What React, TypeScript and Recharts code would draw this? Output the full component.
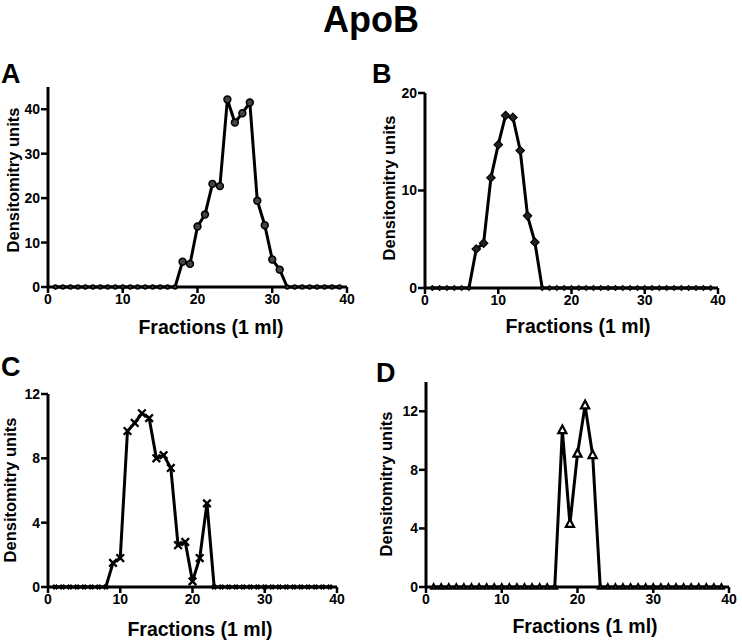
import { LineChart, Line, XAxis, YAxis } from "recharts";

const fractions = [
  1, 2, 3, 4, 5, 6, 7, 8, 9, 10, 11, 12, 13, 14, 15, 16, 17, 18, 19, 20,
  21, 22, 23, 24, 25, 26, 27, 28, 29, 30, 31, 32, 33, 34, 35, 36, 37, 38, 39,
];

const valuesA = [
  0, 0, 0, 0, 0, 0, 0, 0, 0, 0, 0, 0, 0, 0, 0, 0, 0,
  5.7, 5.2, 13.6, 16.3, 23.2, 22.7, 42.2, 37.0, 39.1, 41.5, 19.4, 13.9, 6.2, 3.9,
  0, 0, 0, 0, 0, 0, 0, 0,
];

const valuesB = [
  0, 0, 0, 0, 0, 0,
  4.0, 4.6, 11.3, 14.7, 17.7, 17.5, 14.1, 7.4, 4.7,
  0, 0, 0, 0, 0, 0, 0, 0, 0, 0, 0, 0, 0, 0, 0, 0, 0, 0, 0, 0, 0, 0, 0, 0,
];

const valuesC = [
  0, 0, 0, 0, 0, 0, 0, 0,
  1.5, 1.8, 9.7, 10.2, 10.8, 10.5, 8.0, 8.2, 7.4, 2.6, 2.8, 0.35, 1.8, 5.2,
  0, 0, 0, 0, 0, 0, 0, 0, 0, 0, 0, 0, 0, 0, 0, 0, 0,
];

const valuesD = [
  0, 0, 0, 0, 0, 0, 0, 0, 0, 0, 0, 0, 0, 0, 0, 0, 0,
  10.7, 4.3, 9.1, 12.4, 9.0,
  0, 0, 0, 0, 0, 0, 0, 0, 0, 0, 0, 0, 0, 0, 0, 0, 0,
];

const xTicks = [0, 10, 20, 30, 40];
const yTicksA = [0, 10, 20, 30, 40];
const yTicksB = [0, 10, 20];
const yTicksC = [0, 4, 8, 12];
const yTicksD = [0, 4, 8, 12];

const FONT = "'Liberation Sans', Arial, sans-serif";

type Shape = "circle" | "diamond" | "cross" | "triangle";

// markers sitting on the baseline are drawn smaller, like in the original
const makeDot = (shape: Shape) => (props: any) => {
  const { cx, cy, index, value } = props;
  if (cx == null || cy == null) return <g key={index} />;
  const v = Array.isArray(value) ? value[1] : value;
  const k = v === 0 ? 0.55 : 1;
  if (shape === "circle") {
    return (
      <circle key={index} cx={cx} cy={cy} r={3.4 * k} fill="#444" stroke="#000" strokeWidth={1.6} />
    );
  }
  if (shape === "diamond") {
    const s = 4.2 * k;
    return (
      <polygon
        key={index}
        points={`${cx},${cy - s} ${cx + s},${cy} ${cx},${cy + s} ${cx - s},${cy}`}
        fill="#222"
        stroke="#000"
        strokeWidth={1.2}
      />
    );
  }
  if (shape === "cross") {
    const s = 3.8 * k;
    return (
      <path
        key={index}
        d={`M${cx - s},${cy - s}L${cx + s},${cy + s}M${cx - s},${cy + s}L${cx + s},${cy - s}`}
        stroke="#000"
        strokeWidth={2.3}
      />
    );
  }
  const s = 4.8 * k;
  return (
    <polygon
      key={index}
      points={`${cx},${cy - s} ${cx + s * 0.85},${cy + s * 0.6} ${cx - s * 0.85},${cy + s * 0.6}`}
      fill="#fff"
      stroke="#000"
      strokeWidth={2.2}
    />
  );
};

type PanelProps = {
  values: number[];
  yMax: number;
  yTicks: number[];
  shape: Shape;
  left: number;
  right: number;
  top: number;
  bottom: number;
};

const Panel = ({ values, yMax, yTicks, shape, left, right, top, bottom }: PanelProps) => {
  const data = fractions.map((f, i) => ({ fraction: f, value: values[i] }));
  const width = right - left + 48 + 12;
  const height = bottom - top + 12 + 40;
  const tickStyle = { fill: "#000", fontSize: 14, fontWeight: 700, fontFamily: FONT };
  return (
    <div style={{ position: "absolute", left: left - 48, top: top - 12 }}>
      <LineChart width={width} height={height} data={data} margin={{ top: 12, right: 12, left: 0, bottom: 0 }}>
        <XAxis
          dataKey="fraction"
          type="number"
          domain={[0, 40]}
          ticks={xTicks}
          height={40}
          tick={tickStyle}
          tickSize={6}
          tickMargin={1}
          axisLine={{ stroke: "#000", strokeWidth: 3 }}
          tickLine={{ stroke: "#000", strokeWidth: 2.5 }}
        />
        <YAxis
          type="number"
          domain={[0, yMax]}
          ticks={yTicks}
          width={48}
          tick={tickStyle}
          tickSize={7}
          tickMargin={1}
          axisLine={{ stroke: "#000", strokeWidth: 3 }}
          tickLine={{ stroke: "#000", strokeWidth: 2.5 }}
        />
        <Line
          dataKey="value"
          type="linear"
          stroke="#000"
          strokeWidth={3}
          dot={makeDot(shape)}
          activeDot={false}
          isAnimationActive={false}
        />
      </LineChart>
    </div>
  );
};

const textBase = {
  position: "absolute" as const,
  fontFamily: FONT,
  fontWeight: 700,
  color: "#000",
  whiteSpace: "nowrap" as const,
  lineHeight: 1,
};

const YLabel = ({ x, y, size }: { x: number; y: number; size: number }) => (
  <div
    style={{
      ...textBase,
      fontSize: size,
      left: x,
      top: y,
      transform: "translate(-50%, -50%) rotate(-90deg)",
    }}
  >
    Densitomitry units
  </div>
);

const XLabel = ({ x, y, size }: { x: number; y: number; size: number }) => (
  <div style={{ ...textBase, fontSize: size, left: x, top: y, transform: "translate(-50%, -50%)" }}>
    Fractions (1 ml)
  </div>
);

const Letter = ({ x, y, text }: { x: number; y: number; text: string }) => (
  <div style={{ ...textBase, fontSize: 27, left: x, top: y }}>{text}</div>
);

export default function App() {
  return (
    <div
      style={{
        position: "absolute",
        left: 0,
        top: 0,
        width: 742,
        height: 643,
        background: "#fff",
        overflow: "hidden",
      }}
    >
      <div style={{ ...textBase, fontSize: 36, left: 371, top: 2, transform: "translateX(-50%)" }}>ApoB</div>

      <Letter x={1} y={61} text="A" />
      <Letter x={372} y={61} text="B" />
      <Letter x={1} y={354} text="C" />
      <Letter x={376} y={360} text="D" />

      <Panel values={valuesA} yMax={45} yTicks={yTicksA} shape="circle" left={48} right={347} top={87} bottom={287} />
      <Panel values={valuesB} yMax={20} yTicks={yTicksB} shape="diamond" left={425} right={718} top={93} bottom={288} />
      <Panel values={valuesC} yMax={12} yTicks={yTicksC} shape="cross" left={48} right={337} top={394} bottom={587} />
      <Panel values={valuesD} yMax={14} yTicks={yTicksD} shape="triangle" left={426} right={729} top={382} bottom={587} />

      <YLabel x={13} y={180} size={16.5} />
      <YLabel x={389} y={188} size={16.5} />
      <YLabel x={10} y={490} size={16.5} />
      <YLabel x={386} y={484} size={16.5} />

      <XLabel x={211} y={328} size={19.5} />
      <XLabel x={578} y={327} size={19.5} />
      <XLabel x={200} y={630} size={19.5} />
      <XLabel x={585} y={627} size={19.5} />
    </div>
  );
}
